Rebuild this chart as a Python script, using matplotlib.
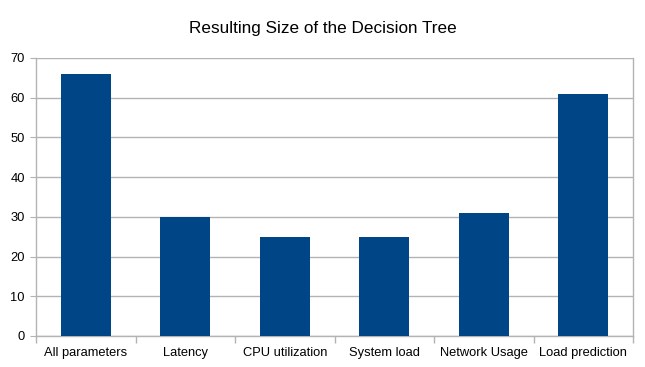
import matplotlib.pyplot as plt
import numpy as np

categories = ["All parameters", "Latency", "CPU utilization", "System load",
              "Network Usage", "Load prediction"]
sizes = [66, 30, 25, 25, 31, 61]

plt.rcParams['font.family'] = ['Liberation Sans', 'DejaVu Sans']

fig = plt.figure(figsize=(6.45, 3.67), dpi=100)
ax = fig.add_axes([36 / 645, 1 - 336 / 367, (633 - 36) / 645, (336 - 58) / 367])

x = np.arange(len(categories))
ax.bar(x, sizes, width=0.5, color="#004586", zorder=3)

ax.set_xlim(-0.5, len(categories) - 0.5)
ax.set_ylim(0, 70)
ax.set_yticks(range(0, 71, 10))
ax.set_xticks(x)
ax.set_xticklabels(categories)
ax.set_xticks(np.arange(-0.5, len(categories), 1), minor=True)
ax.tick_params(axis='x', which='major', length=0, pad=8, labelsize=9.3)
ax.tick_params(axis='x', which='minor', length=5, color="#b3b3b3", width=1)
ax.tick_params(axis='y', length=4, color="#b3b3b3", labelsize=9.3, pad=4)

ax.grid(axis='y', color="#b3b3b3", linewidth=1, zorder=0)
for s in ax.spines.values():
    s.set_color("#b3b3b3")
    s.set_linewidth(1)
ax.spines['top'].set_visible(False)

fig.suptitle("Resulting Size of the Decision Tree", y=1 - 29 / 367, va='center', fontsize=12.3)

fig.savefig("out.png", dpi=100)
